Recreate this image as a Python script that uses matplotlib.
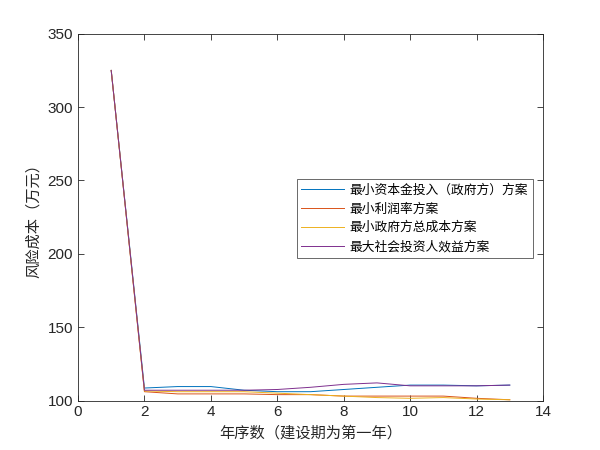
"""Risk cost by year for four financing schemes (MATLAB-style line chart)."""

import matplotlib
matplotlib.use("Agg")
import matplotlib.pyplot as plt

plt.rcParams["font.family"] = ["Liberation Sans", "Noto Sans CJK SC", "DejaVu Sans"]

CJK = ["Noto Sans CJK SC", "DejaVu Sans"]

years = [1, 2, 3, 4, 5, 6, 7, 8, 9, 10, 11, 12, 13]
min_capital = [325, 108.5, 109.5, 109.5, 107, 106, 106, 107.5, 109, 110.5, 110.5, 110, 110.5]
min_profit = [325, 106, 104.5, 104.5, 104.5, 104, 104, 103, 103, 103, 103, 101.5, 100.5]
min_gov_cost = [325, 106.5, 106, 106, 106, 105, 104, 103, 102, 101.5, 102, 101, 100.5]
max_social = [325, 107, 107, 107, 107, 107.5, 109, 111, 112, 110, 110, 110, 110.5]

series_labels = [
    "最小资本金投入（政府方）方案",
    "最小利润率方案",
    "最小政府方总成本方案",
    "最大社会投资人效益方案",
]
colors = ["#0072BD", "#D95319", "#EDB120", "#7E2F8E"]

fig = plt.figure(figsize=(6, 4.5), dpi=100)
ax = fig.add_axes([0.13, 0.11, 0.775, 0.815])

for vals, label, c in zip(
    [min_capital, min_profit, min_gov_cost, max_social], series_labels, colors,
):
    ax.plot(years, vals, color=c, linewidth=0.7, label=label)

ax.set_xlim(0, 14)
ax.set_ylim(100, 350)
ax.set_xticks(range(0, 15, 2))
ax.set_yticks(range(100, 351, 50))
ax.tick_params(direction="in", length=4, width=0.6, colors="#262626",
               labelsize=11, top=True, right=True, labeltop=False, labelright=False)
for s in ax.spines.values():
    s.set_color("#262626")
    s.set_linewidth(0.6)

ax.set_xlabel("年序数（建设期为第一年）", family=CJK, fontsize=11, color="#262626")
ax.set_ylabel("风险成本（万元）", family=CJK, fontsize=11, color="#262626")

leg = ax.legend(loc="upper left", bbox_to_anchor=(0.47, 0.603), borderaxespad=0,
                prop={"family": CJK, "size": 9.2}, frameon=True, fancybox=False,
                borderpad=0.35, labelspacing=0.45, handlelength=3.4, handletextpad=0.4)
leg.get_frame().set_edgecolor("#262626")
leg.get_frame().set_linewidth(0.6)

fig.savefig("out.png", dpi=100)
